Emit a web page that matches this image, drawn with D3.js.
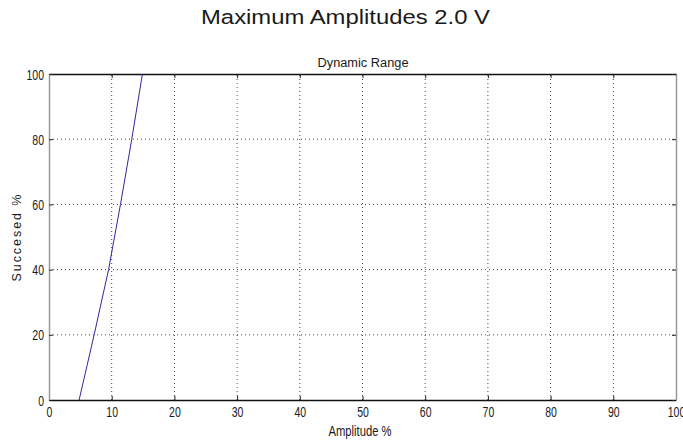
<!DOCTYPE html>
<html lang="en">
<head>
<meta charset="UTF-8">
<title>Dynamic Range</title>
<script src="https://d3js.org/d3.v7.min.js"></script>
<style>
  body { margin: 0; background: #fff; }
  text { font-family: "Liberation Sans", Arial, sans-serif; fill: #1a1a1a; }
  .grid line { stroke: #444; stroke-dasharray: 1,3; }
</style>
</head>
<body>
<svg width="683" height="443"></svg>
<script>
// curve
const amplitude = [4.8, 7.2, 9.5, 11.4, 13.2, 14.9];
const succeeded = [0, 20, 40, 60, 80, 100];
const xTicks = [0, 10, 20, 30, 40, 50, 60, 70, 80, 90, 100];
const yTicks = [0, 20, 40, 60, 80, 100];

const svg = d3.select('svg');
const margin = { top: 74, right: 7, bottom: 43, left: 49 };
const W = 683, H = 443;
const narrow = 0.75; // squeeze glyphs to look like the old narrow helvetica

const x = d3.scaleLinear().domain([0, 100]).range([margin.left, W - margin.right]);
const y = d3.scaleLinear().domain([0, 100]).range([H - margin.bottom, margin.top]);

// grid
svg.append('g').attr('class', 'grid')
  .selectAll('line').data(xTicks.slice(1, -1)).enter().append('line')
  .attr('x1', d => x(d)).attr('x2', d => x(d))
  .attr('y1', y(0)).attr('y2', y(100));
svg.append('g').attr('class', 'grid')
  .selectAll('line').data(yTicks.slice(1, -1)).enter().append('line')
  .attr('x1', x(0)).attr('x2', x(100))
  .attr('y1', d => y(d)).attr('y2', d => y(d));

// axes with inward ticks
const axB = svg.append('g')
  .attr('transform', `translate(0,${y(0)})`)
  .call(d3.axisBottom(x).tickValues(xTicks).tickSizeInner(-4).tickSizeOuter(0).tickPadding(7));
const axT = svg.append('g')
  .attr('transform', `translate(0,${y(100)})`)
  .call(d3.axisTop(x).tickValues(xTicks).tickSizeInner(-4).tickSizeOuter(0).tickFormat(''));
const axL = svg.append('g')
  .attr('transform', `translate(${x(0)},0)`)
  .call(d3.axisLeft(y).tickValues(yTicks).tickSizeInner(-4).tickSizeOuter(0));
const axR = svg.append('g')
  .attr('transform', `translate(${x(100)},0)`)
  .call(d3.axisRight(y).tickValues(yTicks).tickSizeInner(-4).tickSizeOuter(0).tickFormat(''));

[axB, axT].forEach(g => g.select('.domain').attr('stroke', '#111').attr('stroke-width', 1.5));
[axL, axR].forEach(g => g.select('.domain').attr('stroke', '#999').attr('stroke-width', 1.5));
[axB, axT, axL, axR].forEach(g => g.selectAll('.tick line').attr('stroke', '#222'));
[axB, axL].forEach(g => g.selectAll('.tick text')
  .attr('font-family', 'Liberation Sans, Arial, sans-serif')
  .attr('font-size', 14).attr('fill', '#2a2a2a'));
axB.selectAll('.tick text').attr('transform', `scale(${narrow},1)`);
axL.selectAll('.tick text')
  .attr('x', -5 / narrow).attr('dy', '0.36em')
  .attr('transform', `scale(${narrow},1)`);

// curve
svg.append('path')
  .datum(amplitude.map((a, i) => [a, succeeded[i]]))
  .attr('fill', 'none')
  .attr('stroke', '#2b2b9c')
  .attr('stroke-width', 1)
  .attr('d', d3.line().x(d => x(d[0])).y(d => y(d[1])));

// titles
svg.append('text')
  .attr('x', 345.5).attr('y', 24)
  .attr('text-anchor', 'middle')
  .attr('font-size', 20.5)
  .attr('textLength', 289).attr('lengthAdjust', 'spacingAndGlyphs')
  .attr('fill', '#111')
  .text('Maximum Amplitudes 2.0 V');

svg.append('text')
  .attr('x', 363).attr('y', 67)
  .attr('text-anchor', 'middle')
  .attr('font-size', 12.5)
  .attr('textLength', 91).attr('lengthAdjust', 'spacingAndGlyphs')
  .text('Dynamic Range');

svg.append('text')
  .attr('transform', `translate(360,436) scale(${narrow},1)`)
  .attr('text-anchor', 'middle')
  .attr('font-size', 15)
  .text('Amplitude %');

svg.append('text')
  .attr('transform', `translate(21,238) rotate(-90)`)
  .attr('text-anchor', 'middle')
  .attr('font-size', 12.5)
  .attr('textLength', 87).attr('lengthAdjust', 'spacing')
  .attr('fill', '#222')
  .text('Succesed %');
</script>
</body>
</html>
